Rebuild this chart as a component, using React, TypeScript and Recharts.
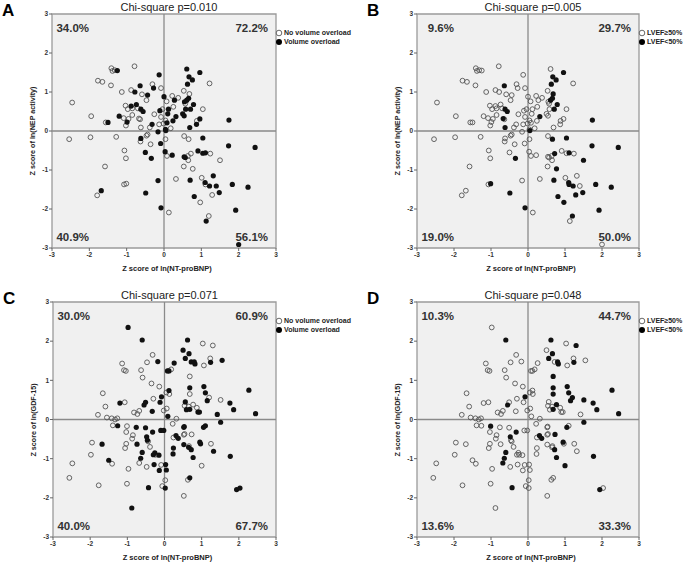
import React from "react";
import {
    ScatterChart,
    Scatter,
    XAxis,
    YAxis,
    ReferenceArea,
    ReferenceLine,
} from "recharts";

// [z ln(NT-proBNP), z ln(NEP activity), volume overload, LVEF<50%]
const nepPatients: number[][] = [
    [-2.54, -0.21, 0, 0], [-2.46, 0.73, 0, 0], [-1.97, -0.16, 0, 0], [-1.95, 0.38, 0, 0],
    [-1.79, -1.65, 0, 0], [-1.68, -1.53, 1, 0], [-1.77, 1.29, 0, 0], [-1.65, 1.26, 0, 0],
    [-1.58, -0.91, 0, 0], [-1.56, 0.22, 0, 0], [-1.5, 0.22, 1, 0], [-1.42, 1.17, 0, 0],
    [-1.41, 1.61, 0, 0], [-1.38, 1.54, 0, 0], [-1.32, 1.56, 0, 0], [-1.25, 1.55, 1, 0],
    [-1.28, -0.15, 0, 0], [-1.2, 0.38, 1, 0], [-1.13, 1.0, 0, 0], [-1.08, 0.33, 0, 0],
    [-1.06, -0.5, 0, 0], [-1.07, -1.37, 0, 0], [-1.01, -1.35, 0, 1], [-1.03, 0.65, 0, 0],
    [-1.02, -0.7, 0, 0], [-1.02, 0.14, 0, 0], [-0.99, 0.23, 1, 0], [-0.97, 0.56, 0, 0],
    [-0.95, 0.31, 0, 0], [-0.88, 0.64, 1, 0], [-0.88, 1.05, 0, 0], [-0.85, 0.58, 0, 0],
    [-0.85, 0.41, 0, 0], [-0.78, 1.0, 1, 0], [-0.79, 1.66, 0, 0], [-0.74, 0.68, 1, 0],
    [-0.7, 0.58, 0, 0], [-0.67, 0.32, 0, 1], [-0.64, 0.3, 0, 0], [-0.64, 1.16, 1, 1],
    [-0.62, 0.09, 0, 1], [-0.62, 0.56, 1, 1], [-0.56, 0.5, 1, 1], [-0.59, 0.94, 0, 0],
    [-0.62, -0.19, 1, 0], [-0.63, -0.27, 0, 0], [-0.13, 1.44, 1, 0], [0.61, 1.59, 1, 0],
    [0.67, 1.39, 1, 1], [0.76, 1.31, 1, 1], [0.96, 1.5, 1, 1], [0.63, 1.2, 1, 1],
    [1.22, 1.22, 0, 0], [-0.31, 1.2, 0, 0], [-0.28, 1.1, 1, 0], [-0.08, 1.1, 0, 0],
    [-0.44, 0.92, 1, 0], [-0.47, 0.79, 0, 0], [0.53, 1.03, 0, 0], [0.68, 0.95, 0, 1],
    [0.0, 0.88, 1, 0], [0.22, 0.9, 0, 0], [0.38, 0.85, 0, 0], [0.28, 0.79, 1, 0],
    [0.07, 0.76, 0, 0], [0.55, 0.75, 1, 0], [0.66, 0.84, 1, 1], [0.61, 0.79, 1, 1],
    [0.79, 0.68, 1, 1], [0.57, 0.7, 0, 0], [0.25, 0.62, 0, 0], [0.12, 0.56, 1, 0],
    [-0.04, 0.56, 0, 0], [-0.11, 0.52, 1, 0], [1.04, 0.56, 0, 0], [0.58, 0.56, 1, 0],
    [0.71, 0.56, 1, 1], [-0.26, 0.43, 0, 0], [0.1, 0.44, 1, 0], [-0.08, 0.36, 0, 0],
    [0.32, 0.37, 1, 1], [0.5, 0.44, 1, 0], [0.54, 0.39, 1, 0], [0.24, 0.26, 1, 0],
    [0.88, 0.26, 0, 0], [0.96, 0.31, 1, 0], [0.87, 0.17, 1, 0], [-0.32, 0.17, 1, 0],
    [-0.13, 0.17, 0, 0], [-0.01, 0.19, 0, 0], [0.08, 0.21, 1, 0], [0.04, 0.27, 0, 0],
    [0.69, 0.09, 1, 0], [0.18, 0.07, 0, 0], [-0.38, 0.09, 0, 0], [-0.16, -0.02, 1, 0],
    [0.05, 0.01, 1, 1], [0.04, 0.04, 1, 0], [-0.44, -0.09, 0, 0], [-0.47, -0.12, 0, 0],
    [-0.36, -0.34, 0, 0], [-0.09, -0.32, 1, 0], [0.04, -0.21, 0, 0], [0.03, -0.53, 1, 0],
    [-0.5, -0.55, 1, 0], [0.08, -0.64, 0, 0], [0.22, -0.62, 1, 0], [-0.34, -0.7, 1, 1],
    [0.54, -0.13, 0, 0], [0.66, -0.21, 0, 1], [1.04, -0.18, 1, 1], [0.91, -0.51, 1, 0],
    [1.04, -0.57, 1, 0], [1.11, -0.56, 1, 1], [1.24, -0.58, 0, 0], [0.72, -0.58, 0, 1],
    [0.54, -0.66, 1, 0], [0.57, -0.68, 1, 0], [0.64, -0.64, 0, 0], [0.65, -0.75, 0, 0],
    [0.53, -0.91, 0, 0], [0.77, -0.97, 0, 1], [1.5, -0.75, 0, 1], [0.32, -1.23, 0, 0],
    [0.7, -1.26, 1, 1], [1.01, -1.2, 0, 0], [1.32, -1.15, 1, 0], [1.11, -1.37, 0, 1],
    [1.1, -1.32, 1, 1], [1.22, -1.41, 1, 1], [1.4, -1.41, 1, 0], [1.48, -1.58, 1, 1],
    [1.83, -1.37, 1, 1], [1.29, -1.64, 0, 1], [-0.16, -1.27, 1, 0], [-0.49, -1.59, 1, 1],
    [0.81, -1.68, 1, 1], [0.97, -1.83, 0, 1], [-0.08, -1.97, 1, 1], [0.13, -2.09, 0, 0],
    [1.2, -2.18, 0, 1], [1.13, -2.31, 1, 0], [1.74, 0.28, 1, 1], [1.73, -0.38, 1, 1],
    [2.44, -0.42, 1, 1], [2.25, -1.44, 1, 1], [1.92, -2.03, 1, 1], [2.0, -2.91, 1, 0],
];

// [z ln(NT-proBNP), z ln(GDF-15), volume overload, LVEF<50%]
const gdfPatients: number[][] = [
    [-2.48, -1.12, 0, 0], [-2.56, -1.49, 0, 0], [-1.95, -0.59, 0, 0], [-1.98, -0.9, 0, 0],
    [-1.77, -1.68, 0, 0], [-1.79, 0.12, 0, 0], [-1.66, 0.67, 0, 0], [-1.68, -0.63, 1, 0],
    [-1.59, 0.33, 0, 0], [-1.55, 0.05, 0, 0], [-1.42, 0.03, 0, 0], [-1.33, 0.0, 0, 0],
    [-1.27, 0.03, 0, 0], [-1.5, -1.04, 1, 0], [-1.41, -1.13, 0, 0], [-1.26, -0.16, 1, 0],
    [-1.39, -0.15, 0, 0], [-1.2, 0.42, 1, 0], [-1.07, 0.44, 0, 0], [-1.14, 1.43, 0, 0],
    [-1.09, 1.26, 0, 0], [-1.04, 1.24, 0, 0], [-0.98, 2.35, 1, 0], [-1.01, -0.17, 0, 1],
    [-1.03, -0.32, 0, 0], [-1.03, -0.62, 0, 0], [-1.06, -0.73, 0, 0], [-0.97, -1.26, 0, 0],
    [-1.01, -1.64, 0, 0], [-0.88, -2.26, 1, 0], [-0.85, -0.4, 0, 0], [-0.87, -0.49, 0, 0],
    [-0.82, 0.18, 0, 0], [-0.76, -0.2, 1, 0], [-0.73, 0.14, 0, 0], [-0.68, 0.22, 0, 0],
    [-0.74, -0.63, 1, 0], [-0.68, -1.11, 0, 1], [-0.64, -0.99, 1, 1], [-0.63, 1.26, 0, 0],
    [-0.59, 1.07, 0, 0], [-0.6, 2.03, 1, 1], [-0.6, -0.84, 1, 1], [-0.55, 0.37, 1, 1],
    [-0.51, 0.44, 1, 0], [-0.51, -0.21, 1, 0], [-0.47, 1.46, 0, 0], [-0.48, -0.44, 1, 1],
    [-0.44, -0.56, 0, 0], [-0.39, -0.7, 0, 0], [-0.48, -1.21, 0, 0], [-0.43, -1.74, 1, 1],
    [-0.35, 0.92, 0, 0], [-0.32, 1.65, 0, 0], [-0.33, 0.21, 1, 0], [-0.3, 0.53, 0, 0],
    [-0.32, -0.32, 1, 1], [-0.28, -1.15, 1, 0], [-0.26, -0.85, 1, 0], [-0.24, -0.9, 0, 0],
    [-0.18, 1.48, 1, 0], [-0.14, 0.84, 0, 0], [-0.08, 0.58, 1, 1], [-0.12, 0.44, 1, 0],
    [0.06, 0.28, 0, 0], [-0.02, 0.23, 0, 0], [0.09, 0.08, 1, 0], [0.32, 0.02, 0, 0],
    [-0.1, -0.28, 1, 0], [-0.02, -0.28, 1, 0], [0.22, -0.11, 0, 0], [0.52, -0.2, 1, 0],
    [0.31, -0.41, 1, 1], [0.37, -0.48, 1, 1], [0.24, -0.46, 0, 0], [0.52, -0.39, 0, 0],
    [0.73, -0.38, 0, 1], [1.05, -0.2, 1, 1], [1.1, -0.16, 1, 0], [-0.46, -0.53, 1, 0],
    [-0.3, -0.9, 1, 0], [-0.15, -0.91, 1, 0], [0.24, -0.73, 1, 0], [0.23, -0.88, 1, 0],
    [0.52, -0.64, 1, 0], [0.65, -0.71, 1, 0], [0.72, -0.77, 1, 1], [0.77, -0.97, 1, 1],
    [0.95, -0.58, 1, 1], [0.97, -0.62, 1, 0], [1.25, -0.62, 0, 0], [1.32, -0.81, 1, 0],
    [1.77, -0.94, 1, 1], [1.0, -1.18, 0, 1], [-0.14, -1.3, 1, 0], [0.03, -1.15, 1, 0],
    [0.05, -1.29, 1, 0], [-0.09, -1.16, 0, 0], [0.02, -1.55, 0, 0], [-0.06, -1.7, 0, 0],
    [0.02, -1.75, 1, 0], [0.63, -1.54, 0, 0], [0.68, -1.49, 1, 0], [0.52, -1.95, 0, 0],
    [0.62, 2.03, 1, 1], [1.03, 1.94, 0, 0], [1.3, 1.89, 0, 1], [0.5, 1.77, 1, 0],
    [0.66, 1.68, 1, 1], [0.56, 1.56, 1, 1], [0.72, 1.47, 1, 0], [0.8, 1.47, 1, 1],
    [0.82, 1.42, 1, 1], [1.23, 1.56, 0, 0], [1.24, 1.46, 1, 1], [1.06, 1.38, 0, 0],
    [1.55, 1.51, 1, 0], [0.26, 1.44, 1, 0], [0.08, 1.24, 1, 0], [0.12, 1.24, 1, 0],
    [0.18, 1.28, 0, 0], [0.68, 1.1, 0, 1], [0.68, 0.81, 1, 1], [1.06, 0.84, 1, 1],
    [1.1, 0.68, 1, 1], [1.2, 0.56, 0, 1], [1.15, 0.48, 1, 1], [0.68, 0.65, 0, 1],
    [0.12, 0.74, 1, 0], [0.05, 0.69, 0, 0], [0.13, 0.65, 0, 0], [0.54, 0.35, 0, 0],
    [0.56, 0.45, 1, 0], [0.59, 0.25, 1, 0], [0.65, 0.33, 0, 0], [0.68, 0.26, 1, 1],
    [0.77, 0.38, 0, 1], [0.87, 0.3, 0, 0], [0.9, 0.19, 1, 0], [0.94, 0.19, 1, 0],
    [1.51, 0.5, 0, 1], [1.76, 0.42, 1, 1], [1.86, 0.25, 1, 1], [1.42, 0.13, 1, 0],
    [1.51, -0.07, 1, 1], [2.27, 0.75, 1, 1], [2.45, 0.15, 1, 1], [0.53, -0.18, 1, 0],
    [0.54, -0.37, 0, 0], [0.66, -0.68, 0, 0], [1.94, -1.79, 1, 1], [2.03, -1.75, 1, 0],
];

const zTicks = [-3, -2, -1, 0, 1, 2, 3];
const volumeLegend = ["No volume overload", "Volume overload"];
const lvefLegend = ["LVEF\u226550%", "LVEF<50%"];
const titles = ["Chi-square p=0.010", "Chi-square p=0.005", "Chi-square p=0.071", "Chi-square p=0.048"];
// quadrant percentages: upper-left, upper-right, lower-left, lower-right
const pctA = ["34.0%", "72.2%", "40.9%", "56.1%"];
const pctB = ["9.6%", "29.7%", "19.0%", "50.0%"];
const pctC = ["30.0%", "60.9%", "40.0%", "67.7%"];
const pctD = ["10.3%", "44.7%", "13.6%", "33.3%"];

const FONT = "'Liberation Sans', Arial, sans-serif";

const split = (rows: number[][], col: number, val: number) =>
    rows.filter((r) => r[col] === val).map((r) => ({ x: r[0], y: r[1] }));

const OpenDot = (p: any) => (
    <circle cx={p.cx} cy={p.cy} r={2.4} fill="none" stroke="#555" strokeWidth={0.9} />
);
const FilledDot = (p: any) => <circle cx={p.cx} cy={p.cy} r={2.6} fill="#111" />;

function Txt(props: {
    x: number;
    y: number;
    fs: number;
    bold?: boolean;
    anchor?: "start" | "middle" | "end";
    color?: string;
    rotate?: boolean;
    children: React.ReactNode;
}) {
    const { x, y, fs, bold, anchor = "start", color = "#222", rotate } = props;
    if (rotate) {
        return (
            <div
                style={{
                    position: "absolute",
                    left: x,
                    top: y,
                    transform: "translate(-50%, -50%) rotate(-90deg)",
                    fontSize: fs,
                    fontWeight: bold ? 700 : 400,
                    color,
                    whiteSpace: "nowrap",
                    lineHeight: 1,
                }}
            >
                {props.children}
            </div>
        );
    }
    const tx = anchor === "middle" ? "-50%" : anchor === "end" ? "-100%" : "0";
    return (
        <div
            style={{
                position: "absolute",
                left: x,
                top: y - 0.13 * fs,
                transform: `translateX(${tx})`,
                fontSize: fs,
                fontWeight: bold ? 700 : 400,
                color,
                whiteSpace: "nowrap",
                lineHeight: 1,
            }}
        >
            {props.children}
        </div>
    );
}

function Panel(props: {
    left: number;
    top: number;
    w: number;
    h: number;
    letter: string;
    title: string;
    yLabel: string;
    rows: number[][];
    col: number;
    legend: string[];
    pct: string[];
}) {
    const { left, top, w, h, rows, col, pct } = props;
    const open = split(rows, col, 0);
    const filled = split(rows, col, 1);
    const tick = { fontSize: 6.5, fill: "#333", fontWeight: 700 };
    return (
        <>
            <div style={{ position: "absolute", left: left - 52, top: top - 14 }}>
                <ScatterChart
                    width={w + 56}
                    height={h + 34}
                    margin={{ top: 14, right: 4, left: 0, bottom: 3 }}
                >
                    <XAxis
                        type="number"
                        dataKey="x"
                        domain={[-3, 3]}
                        ticks={zTicks}
                        allowDataOverflow
                        axisLine={false}
                        tickSize={3}
                        tickMargin={1}
                        tickLine={{ stroke: "#666" }}
                        tick={tick}
                        height={17}
                    />
                    <YAxis
                        type="number"
                        dataKey="y"
                        domain={[-3, 3]}
                        ticks={zTicks}
                        allowDataOverflow
                        axisLine={false}
                        tickSize={3}
                        tickMargin={1}
                        tickLine={{ stroke: "#666" }}
                        tick={tick}
                        width={52}
                    />
                    <ReferenceArea
                        x1={-3}
                        x2={3}
                        y1={-3}
                        y2={3}
                        fill="#f0f0f0"
                        fillOpacity={1}
                        stroke="#9a9a9a"
                        strokeWidth={1.3}
                    />
                    <ReferenceLine x={0} stroke="#8a8a8a" strokeWidth={1.3} />
                    <ReferenceLine y={0} stroke="#8a8a8a" strokeWidth={1.3} />
                    <Scatter data={open} shape={OpenDot} isAnimationActive={false} />
                    <Scatter data={filled} shape={FilledDot} isAnimationActive={false} />
                </ScatterChart>
            </div>
            <Txt x={left - 50} y={top - 10} fs={17} bold color="#000">
                {props.letter}
            </Txt>
            <Txt x={left + w / 2 + 5} y={top - 11} fs={11} anchor="middle">
                {props.title}
            </Txt>
            <Txt x={left - 19} y={top + h / 2} fs={7.2} bold rotate>
                {props.yLabel}
            </Txt>
            <Txt x={left + w / 2 + 3} y={top + h + 18} fs={7.5} bold anchor="middle">
                Z score of ln(NT-proBNP)
            </Txt>
            <Txt x={left + 37} y={top + 10} fs={11.5} bold anchor="end" color="#333">
                {pct[0]}
            </Txt>
            <Txt x={left + w - 8} y={top + 10} fs={11.5} bold anchor="end" color="#333">
                {pct[1]}
            </Txt>
            <Txt x={left + 37} y={top + h - 15} fs={11.5} bold anchor="end" color="#333">
                {pct[2]}
            </Txt>
            <Txt x={left + w - 8} y={top + h - 15} fs={11.5} bold anchor="end" color="#333">
                {pct[3]}
            </Txt>
            {props.legend.map((label, i) => (
                <React.Fragment key={label}>
                    <svg
                        width={8}
                        height={8}
                        style={{ position: "absolute", left: left + w - 1, top: top + 15 + i * 9 }}
                    >
                        {i === 0 ? (
                            <circle cx={4} cy={4} r={2.8} fill="#fff" stroke="#444" strokeWidth={0.8} />
                        ) : (
                            <circle cx={4} cy={4} r={3} fill="#000" />
                        )}
                    </svg>
                    <Txt x={left + w + 8} y={top + 16 + i * 9} fs={7} bold>
                        {label}
                    </Txt>
                </React.Fragment>
            ))}
        </>
    );
}

export default function App() {
    return (
        <div
            style={{
                position: "absolute",
                left: 0,
                top: 0,
                width: 685,
                height: 563,
                background: "#fff",
                fontFamily: FONT,
                overflow: "hidden",
            }}
        >
            <Panel
                left={52}
                top={14}
                w={224}
                h={234}
                letter="A"
                title={titles[0]}
                yLabel="Z score of ln(NEP activity)"
                rows={nepPatients}
                col={2}
                legend={volumeLegend}
                pct={pctA}
            />
            <Panel
                left={417}
                top={14}
                w={222}
                h={234}
                letter="B"
                title={titles[1]}
                yLabel="Z score of ln(NEP activity)"
                rows={nepPatients}
                col={3}
                legend={lvefLegend}
                pct={pctB}
            />
            <Panel
                left={53}
                top={302}
                w={223}
                h={235}
                letter="C"
                title={titles[2]}
                yLabel="Z score of ln(GDF-15)"
                rows={gdfPatients}
                col={2}
                legend={volumeLegend}
                pct={pctC}
            />
            <Panel
                left={417}
                top={302}
                w={222}
                h={235}
                letter="D"
                title={titles[3]}
                yLabel="Z score of ln(GDF-15)"
                rows={gdfPatients}
                col={3}
                legend={lvefLegend}
                pct={pctD}
            />
        </div>
    );
}
